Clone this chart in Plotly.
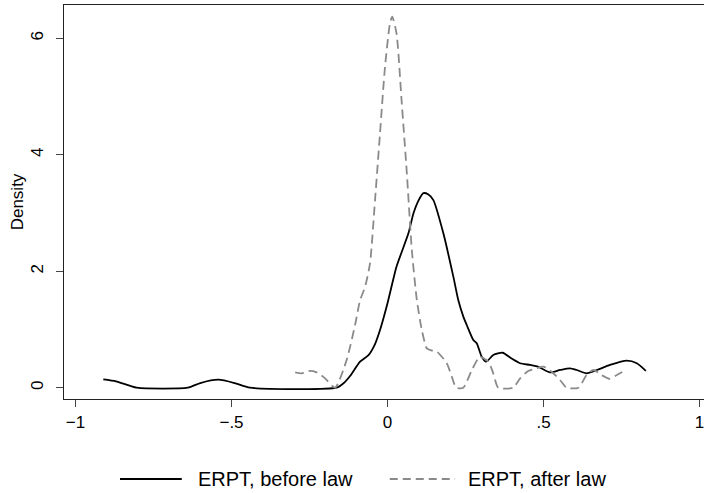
import plotly.graph_objects as go

# ERPT, before law (kernel density)
before_x = [-0.911, -0.87, -0.804, -0.64, -0.60, -0.542, -0.49, -0.441, -0.163,
            -0.140, -0.120, -0.088, -0.061, -0.040, -0.024, 0.000, 0.029, 0.067,
            0.083, 0.100, 0.115, 0.130, 0.147, 0.179, 0.211, 0.227, 0.243, 0.254,
            0.275, 0.286, 0.302, 0.316, 0.339, 0.369, 0.398, 0.425, 0.457, 0.483,
            0.521, 0.553, 0.585, 0.606, 0.638, 0.671, 0.713, 0.767, 0.799, 0.828]
before_y = [0.144, 0.11, 0.0, 0.0, 0.08, 0.137, 0.08, 0.0, 0.0,
            0.08, 0.2, 0.447, 0.56, 0.75, 0.99, 1.45, 2.08, 2.65,
            2.99, 3.22, 3.34, 3.32, 3.22, 2.65, 1.906, 1.50, 1.22, 1.076,
            0.82, 0.762, 0.53, 0.446, 0.56, 0.60, 0.50, 0.42, 0.39, 0.36,
            0.264, 0.304, 0.333, 0.304, 0.247, 0.304, 0.39, 0.464, 0.42, 0.29]

# ERPT, after law
after_x = [-0.296, -0.275, -0.254, -0.227, -0.200, -0.168, -0.131, -0.104, -0.088,
           -0.072, -0.056, -0.040, -0.024, -0.008, 0.008, 0.015, 0.029, 0.045,
           0.062, 0.078, 0.094, 0.110, 0.126, 0.140, 0.158, 0.190, 0.206, 0.220,
           0.243, 0.270, 0.296, 0.323, 0.339, 0.355, 0.403, 0.425, 0.451, 0.478,
           0.500, 0.526, 0.553, 0.574, 0.612, 0.638, 0.660, 0.686, 0.713, 0.735, 0.754]
after_y = [0.264, 0.247, 0.287, 0.264, 0.16, 0.0, 0.475, 1.076, 1.50,
           1.73, 2.14, 3.22, 4.37, 5.51, 6.26, 6.37, 6.08, 4.94,
           3.68, 2.36, 1.506, 0.99, 0.676, 0.64, 0.62, 0.42, 0.19, 0.0,
           0.0, 0.30, 0.53, 0.446, 0.247, 0.0, 0.0, 0.16, 0.287, 0.333,
           0.36, 0.275, 0.132, 0.0, 0.0, 0.218, 0.304, 0.218, 0.15, 0.218, 0.275]

x_ticks = [-1, -0.5, 0, 0.5, 1]
x_tick_labels = ["\u22121", "\u2212.5", "0", ".5", "1"]
y_ticks = [0, 2, 4, 6]
y_tick_labels = ["0", "2", "4", "6"]
series_names = ["ERPT, before law", "ERPT, after law"]

FONT = "Liberation Sans, Arial, Helvetica, sans-serif"
SOLID = "#000000"
DASHC = "#8a8a8a"

fig = go.Figure()
fig.add_trace(go.Scatter(x=before_x, y=before_y, mode="lines", name=series_names[0],
                         line=dict(color=SOLID, width=1.8, shape="spline", smoothing=0.6),
                         showlegend=False))
fig.add_trace(go.Scatter(x=after_x, y=after_y, mode="lines", name=series_names[1],
                         line=dict(color=DASHC, width=1.8, dash="9px,5px", shape="spline", smoothing=0.6),
                         showlegend=False))

# custom legend (positions in paper coordinates)
ly = -0.203
fig.add_shape(type="line", xref="paper", yref="paper", x0=0.0875, x1=0.184, y0=ly, y1=ly,
              line=dict(color=SOLID, width=1.8))
fig.add_shape(type="line", xref="paper", yref="paper", x0=0.509, x1=0.611, y0=ly, y1=ly,
              line=dict(color=DASHC, width=1.8, dash="8px,5px"))
fig.add_annotation(xref="paper", yref="paper", x=0.206, y=ly, text=series_names[0],
                   showarrow=False, xanchor="left", yanchor="middle",
                   font=dict(family=FONT, size=20, color="#000"))
fig.add_annotation(xref="paper", yref="paper", x=0.628, y=ly, text=series_names[1],
                   showarrow=False, xanchor="left", yanchor="middle",
                   font=dict(family=FONT, size=20, color="#000"))

fig.update_layout(
    width=704, height=493,
    margin=dict(l=64, r=0, t=5, b=94),
    paper_bgcolor="white", plot_bgcolor="white",
    font=dict(family=FONT, size=17, color="#000"),
    showlegend=False,
    xaxis=dict(range=[-1.0369, 1.0144], tickvals=x_ticks, ticktext=x_tick_labels,
               showgrid=False, zeroline=False, showline=True, linecolor="#222",
               linewidth=1.3, mirror=True, ticks="outside", ticklen=7, tickcolor="#444",
               tickwidth=1, tickfont=dict(size=17), ticklabeloverflow="allow"),
    yaxis=dict(range=[-0.194, 6.570], tickvals=y_ticks, ticktext=y_tick_labels,
               showgrid=False, zeroline=False, showline=True, linecolor="#222",
               linewidth=1.3, ticks="outside", ticklen=7, tickcolor="#444",
               tickwidth=1, tickangle=-90, tickfont=dict(size=17),
               ticklabelstandoff=6,
               title=dict(text="Density", font=dict(size=17), standoff=0)),
)

fig.write_html("out.html",
               config={"displayModeBar": False},
               post_script="document.body.style.margin='0';document.body.style.overflow='hidden';")
